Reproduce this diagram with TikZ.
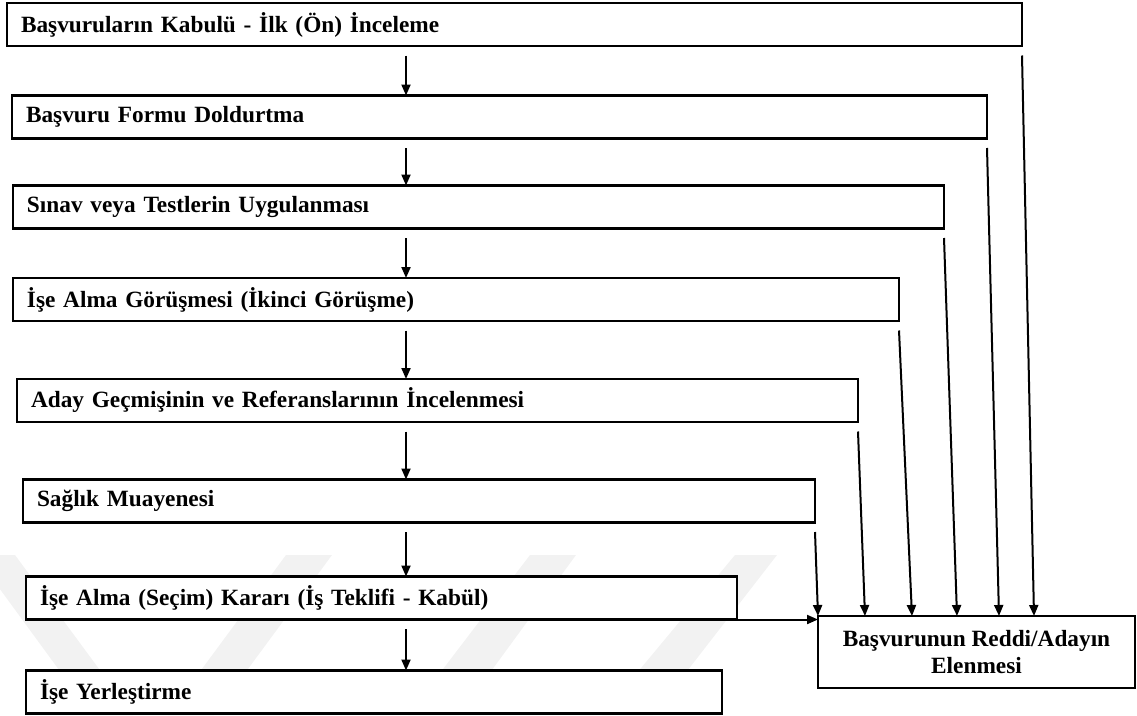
\documentclass[tikz,border=0pt]{standalone}
\usepackage{fontspec}
\setmainfont{Liberation Serif}
\usetikzlibrary{arrows.meta,calc}
\begin{document}
\begin{tikzpicture}[x=1pt,y=-1pt,
  lbl/.style={font=\fontsize{23.3}{27}\selectfont\bfseries},
  box/.style={lbl, draw, line width=2.4pt, fill=white, anchor=west, outer sep=0pt,
    minimum height=43pt, inner xsep=14pt, inner ysep=0pt, align=left},
  rejbox/.style={lbl, draw, line width=2.4pt, fill=white, outer sep=0pt,
    minimum width=317pt, minimum height=72pt, align=center},
  arr/.style={line width=2pt, -{Triangle[length=11pt,width=9pt]}},
  wm/.style={fill=black!5, draw=none}]
\useasboundingbox (0,0) rectangle (1137,715);
% faint watermark bands
\fill[wm] (-25,555) -- (15,555) -- (133,715) -- (92,715) -- cycle;
\fill[wm] (286,555) -- (332,555) -- (214,715) -- (168,715) -- cycle;
\fill[wm] (530,555) -- (576,555) -- (459,715) -- (408,715) -- cycle;
\fill[wm] (735,555) -- (777,555) -- (653,715) -- (602,715) -- cycle;
% boxes
\node[box, text width=987pt] (b1) at (7,24.5) {Başvuruların Kabulü - İlk (Ön) İnceleme};
\node[box, text width=947pt] (b2) at (12,117) {Başvuru Formu Doldurtma};
\node[box, text width=903pt] (b3) at (13,207) {Sınav veya Testlerin Uygulanması};
\node[box, text width=858pt] (b4) at (13,299.5) {İşe Alma Görüşmesi (İkinci Görüşme)};
\node[box, text width=813pt] (b5) at (17,400.5) {Aday Geçmişinin ve Referanslarının İncelenmesi};
\node[box, text width=764pt] (b6) at (23,501) {Sağlık Muayenesi};
\node[box, text width=683pt] (b7) at (26,598) {İşe Alma (Seçim) Kararı (İş Teklifi - Kabül)};
\node[box, text width=668pt] (b8) at (26,692) {İşe Yerleştirme};
\node[rejbox] (rej) at (976.5,652) {Başvurunun Reddi/Adayın\\Elenmesi};
% main flow
\coordinate (ax) at (406,0);
\foreach \a/\b in {b1/b2,b2/b3,b3/b4,b4/b5,b5/b6,b6/b7,b7/b8}
  \draw[arr] ([yshift=-9.5pt]\a.south -| ax) -- (\b.north -| ax);
% rejection arrows
\foreach \a/\dx in {b1/216,b2/181,b3/139,b4/94,b5/47,b6/0}
  \draw[arr] ([yshift=-9.5pt]\a.south east) -- ([xshift=\dx pt]rej.north west);
\draw[arr] (b7.south east) -- (b7.south east -| rej.west);
\end{tikzpicture}
\end{document}
